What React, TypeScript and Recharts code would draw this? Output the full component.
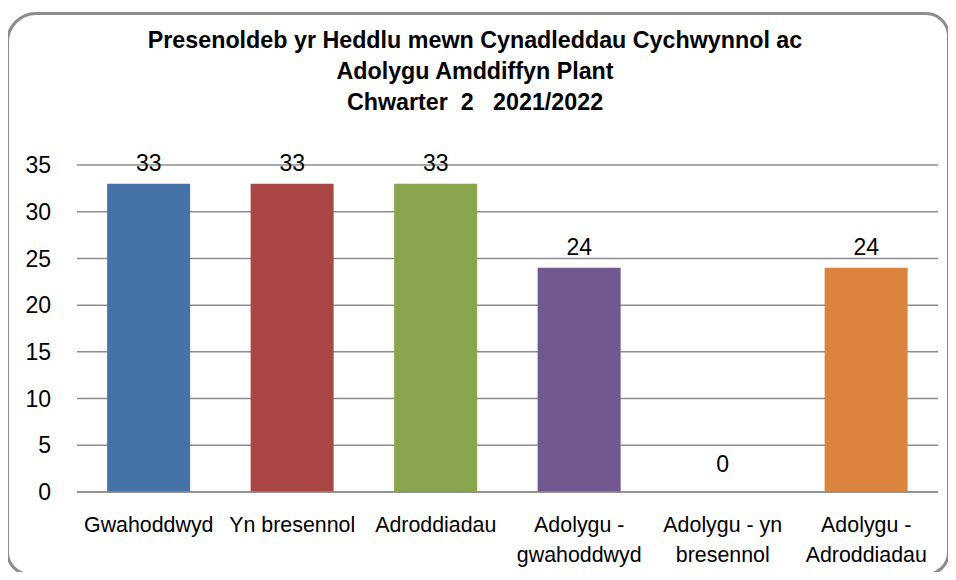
import { ComposedChart, Bar, Line, XAxis, YAxis, CartesianGrid, Cell, LabelList } from 'recharts';

const categories = [
  'Gwahoddwyd',
  'Yn bresennol',
  'Adroddiadau',
  'Adolygu - gwahoddwyd',
  'Adolygu - yn bresennol',
  'Adolygu - Adroddiadau',
];
const tickLines = [
  ['Gwahoddwyd'],
  ['Yn bresennol'],
  ['Adroddiadau'],
  ['Adolygu -', 'gwahoddwyd'],
  ['Adolygu - yn', 'bresennol'],
  ['Adolygu -', 'Adroddiadau'],
];
const values = [33, 33, 33, 24, 0, 24];
const colors = ['#4572A7', '#AA4643', '#89A54E', '#71588F', '#4198AF', '#DB843D'];
const yTicks = [0, 5, 10, 15, 20, 25, 30, 35];
const titleLines = [
  'Presenoldeb yr Heddlu mewn Cynadleddau Cychwynnol ac',
  'Adolygu Amddiffyn Plant',
  'Chwarter  2   2021/2022',
];

const data = categories.map((name, i) => ({ name, value: values[i] }));

const sans = '"Liberation Sans", Arial, sans-serif';

function CategoryTick(props: any) {
  const { x, y, index } = props;
  const lines = tickLines[index] || [];
  return (
    <g transform={`translate(${x},${y}) scale(0.93,1)`}>
      {lines.map((l, i) => (
        <text
          key={i}
          x={0}
          y={0}
          dy={32 + i * 30}
          textAnchor="middle"
          fill="#000"
          fontFamily={sans}
          fontSize={23}
        >
          {l}
        </text>
      ))}
    </g>
  );
}

// value label; the zero label sits a little higher, as in the original
function ValueLabel(props: any) {
  const { x, y, value } = props;
  const lift = value === 0 ? 20 : 13;
  return (
    <text x={x} y={y - lift} textAnchor="middle" fill="#000" fontFamily={sans} fontSize={23}>
      {value}
    </text>
  );
}

export default function App() {
  return (
    <div style={{ position: 'relative', width: 956, height: 580, margin: -8, background: '#fff' }}>
      <div
        style={{
          position: 'absolute',
          left: 6,
          top: 12,
          width: 938,
          height: 558,
          border: '3px solid #8c8c8c',
          borderRadius: '30px 24px 24px 24px',
        }}
      />
      <div
        style={{
          position: 'absolute',
          left: 0,
          top: 24,
          width: 950,
          textAlign: 'center',
          fontFamily: sans,
          fontWeight: 'bold',
          fontSize: 24.5,
          lineHeight: '31px',
          transform: 'scaleX(0.95)',
          transformOrigin: '475px 0',
        }}
      >
        {titleLines.map((t, i) => (
          <div key={i} style={{ whiteSpace: 'pre' }}>
            {t}
          </div>
        ))}
      </div>
      <div style={{ position: 'absolute', left: 0, top: 0 }}>
        <ComposedChart
          width={956}
          height={580}
          data={data}
          margin={{ top: 165, right: 18, left: 17, bottom: 18 }}
          barCategoryGap="21%"
        >
          <CartesianGrid vertical={false} stroke="#8c8c8c" strokeWidth={1.5} />
          <XAxis
            dataKey="name"
            axisLine={{ stroke: '#8c8c8c', strokeWidth: 1.5 }}
            tickLine={false}
            tick={<CategoryTick />}
            interval={0}
            height={70}
          />
          <YAxis
            domain={[0, 35]}
            ticks={yTicks}
            axisLine={false}
            tickLine={false}
            width={60}
            tick={{ fill: '#000', fontSize: 23, fontFamily: sans }}
            tickMargin={20}
          />
          <Bar dataKey="value" isAnimationActive={false}>
            {data.map((d, i) => (
              <Cell key={d.name} fill={colors[i]} />
            ))}
          </Bar>
          <Line
            dataKey="value"
            stroke="none"
            dot={false}
            activeDot={false}
            isAnimationActive={false}
          >
            <LabelList dataKey="value" content={<ValueLabel />} />
          </Line>
        </ComposedChart>
      </div>
    </div>
  );
}
